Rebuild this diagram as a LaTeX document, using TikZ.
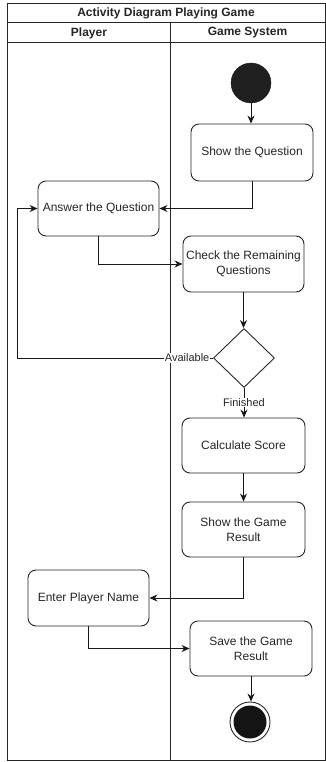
\documentclass[tikz,border=0pt]{standalone}
\usepackage{fontspec}
\setmainfont{Liberation Sans}
\usetikzlibrary{shapes.geometric,arrows.meta,calc}

\begin{document}
\begin{tikzpicture}[x=1pt,y=-1pt,
  every node/.style={font=\fontsize{12}{15}\selectfont, text=black!85},
  action/.style={draw=black!85, line width=0.9pt, rounded corners=8pt, fill=white,
    minimum width=#1, align=center, inner sep=2pt},
  action/.default=121,
  flow/.style={draw=black!90, line width=0.9pt, -{Stealth[length=8pt,width=7pt]}},
  lane/.style={draw=black!85, line width=1pt},
  guard/.style={fill=white, inner sep=0.5pt, font=\fontsize{11}{13}\selectfont}
]
\useasboundingbox (0,0) rectangle (326,762);

% swimlane frame
\draw[lane] (7.5,3.5) rectangle (325,760);
\draw[lane] (7.5,23) -- (325,23);
\draw[lane] (7.5,43) -- (325,43);
\draw[lane] (170,23) -- (170,760);
\node (title) at (166,13) {\bfseries Activity Diagram Playing Game};
\node (lplayer) at (89,33) {\bfseries Player};
\node (lsystem) at (247.5,33) {\bfseries Game System};

% activity nodes
\node[circle, fill=black!88, draw=black!88, minimum size=40pt, inner sep=0] (start) at (251,83) {};
\node[action=122, minimum height=57pt] (showq) at (252,152.5) {Show the Question};
\node[action, minimum height=55pt] (answer) at (98.5,208.5) {Answer the Question};
\node[action, minimum height=56pt] (check) at (243.5,264) {Check the Remaining\\Questions};
\node[diamond, draw=black!85, line width=0.9pt, fill=white, minimum width=61pt, minimum height=59pt, inner sep=0] (dec) at (244,358) {};
\node[action=123, minimum height=55pt] (calc) at (243.5,445.5) {Calculate Score};
\node[action=123, minimum height=55pt] (result) at (243.5,529.5) {Show the Game\\Result};
\node[action, minimum height=56pt] (enter) at (88.5,598) {Enter Player Name};
\node[action=122, minimum height=55pt] (save) at (251,648.5) {Save the Game\\Result};
\node[circle, draw=black!85, line width=0.9pt, fill=white, minimum size=40pt, inner sep=0] (end) at (250,722) {};
\node[circle, fill=black!92, minimum size=33pt, inner sep=0] (endin) at (end) {};

% control flow
\coordinate (loop) at (17,358);
\draw[flow] (start) -- (start |- showq.north);
\draw[flow] (showq.south) |- (answer.east);
\draw[flow] (answer.south) |- (check.west);
\draw[flow] (check.south) -- (check.south |- dec.north);
\draw[flow] (dec.west) -- (loop) |- (answer.west);
\node[guard, anchor=east] (avail) at ($(dec.west)+(-3,0)$) {Available};
\draw[flow] (dec.south) -- (dec.south |- calc.north)
  node[guard, pos=0.5] (fin) {Finished};
\draw[flow] (calc) -- (result);
\draw[flow] (result.south) |- (enter.east);
\draw[flow] (enter.south) |- (save.west);
\draw[flow] (save.south) -- (save.south |- end.north);
\end{tikzpicture}
\end{document}
